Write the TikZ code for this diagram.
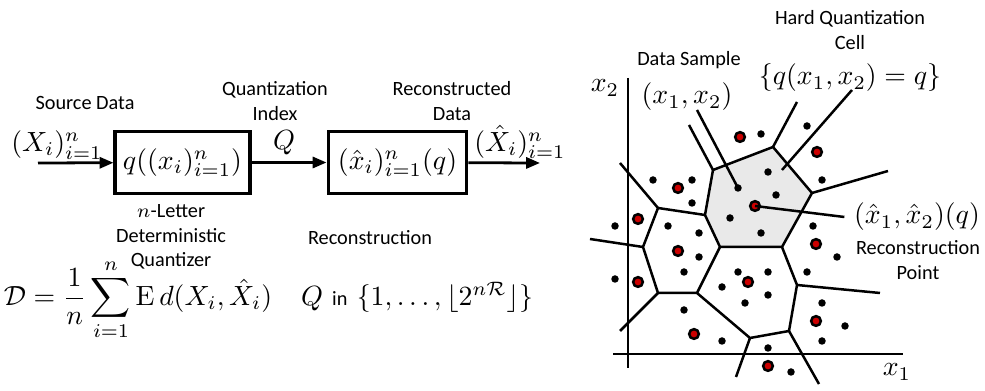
\documentclass[tikz,border=0pt]{standalone}
\usepackage{amsmath,amssymb}
\usepackage{fontspec}
\newfontfamily\calib{Carlito}
\usetikzlibrary{arrows.meta, positioning}

\begin{document}
\begin{tikzpicture}[
  x=0.36pt, y=-0.36pt,
  block/.style={
    rectangle, draw=black, line width=1.1pt, inner sep=0pt,
    minimum height=22pt
  },
  sig/.style={-{Triangle[length=5pt, width=4pt]}, line width=1pt},
  note/.style={font=\calib\fontsize{7.3}{8.8}\selectfont, align=center, inner sep=0pt},
  edge/.style={line width=0.9pt},
  axis/.style={line width=0.9pt},
  cellfill/.style={fill=gray!17},
  rdot/.style={fill=red!80!black, draw=black, line width=0.9pt},
  bdot/.style={fill=black},
]
  \useasboundingbox (0,0) rectangle (985,391);

  % Quantizer chain
  \node[block, minimum width=48.6pt] (quant) at (182.5,162.5) {$q((x_i)_{i=1}^n)$};
  \node[block, minimum width=50pt]   (recon) at (397.5,162.5) {$(\hat{x}_i)_{i=1}^n(q)$};
  \coordinate (src)  at (38,163);
  \coordinate (sink) at (540,163);

  \draw[sig] (src) -- (quant);
  \draw[sig] (quant) -- (recon);
  \draw[sig] (recon) -- (sink);

  % Signal labels
  \node (xin)  at (57,145)  {$(X_i)_{i=1}^n$};
  \node (qout) at (284,143) {$Q$};
  \node (xout) at (520,142) {$(\hat{X}_i)_{i=1}^n$};

  % Annotations
  \node[note] (srcdata) at (85,103)  {Source Data};
  \node[note] (qidx)    at (275,101) {Quantization\\Index};
  \node[note] (recdata) at (452,101) {Reconstructed\\Data};
  \node[note] (qname)   at (171,237) {$n$-Letter\\Deterministic\\Quantizer};
  \node[note] (rname)   at (370,238) {Reconstruction};

  % Distortion and index range
  \node (dist) at (138,300)
    {$\displaystyle \mathcal{D}=\frac{1}{n}\sum_{i=1}^{n}\mathrm{E}\,d(X_i,\hat{X}_i)$};
  \node (qrange) at (417,297)
    {$Q$ {\calib\fontsize{7.3}{8.8}\selectfont in} $\{1,\ldots,\lfloor 2^{n\mathcal{R}}\rfloor\}$};

  % Voronoi vertices
  \coordinate (A) at (713,170);
  \coordinate (B) at (773,147);
  \coordinate (C) at (812,193);
  \coordinate (D) at (782,247);
  \coordinate (E) at (720,247);
  \coordinate (F) at (705,215);
  \coordinate (G) at (658,208);
  \coordinate (H) at (643,247);
  \coordinate (I) at (658,293);
  \coordinate (J) at (697,293);
  \coordinate (K) at (750,338);
  \coordinate (L) at (789,331);
  \coordinate (M) at (797,285);

  % Hard quantization cell
  \fill[cellfill] (A) -- (B) -- (C) -- (D) -- (E) -- (F) -- cycle;

  % Axes
  \draw[axis] (628,78) -- (628,368);
  \draw[axis] (613,354) -- (903,354);
  \node (xtwo) at (605,88)  {$x_2$};
  \node (xone) at (897,372) {$x_1$};

  % Cell edges
  \draw[edge] (A) -- (B) -- (C) -- (D) -- (E) -- (F) -- cycle;
  \draw[edge] (F) -- (G) -- (H) -- (I) -- (J) -- (E);
  \draw[edge] (J) -- (K) -- (L) -- (M) -- (D);
  \draw[edge] (A) -- (689,125);
  \draw[edge] (B) -- (797,102);
  \draw[edge] (C) -- (888,171);
  \draw[edge] (G) -- (620,163);
  \draw[edge] (H) -- (590,239);
  \draw[edge] (I) -- (620,331);
  \draw[edge] (M) -- (880,293);
  \draw[edge] (K) -- (736,377);
  \draw[edge] (L) -- (819,384);

  % Data samples
  \foreach \p in {(761,134),(807,126),(653,180),(692,180),(768,172),(822,180),
                  (776,195),(692,203),(730,218),(761,233),(615,226),(668,226),
                  (699,233),(813,226),(837,257),(699,257),(684,272),(738,272),
                  (768,272),(807,272),(615,279),(722,287),(768,295),(745,303),
                  (822,303),(684,310),(845,326),(722,341),(822,341),(768,348),
                  (791,372)}
    \fill[bdot] \p circle (1.35pt);
  \fill[bdot] (738,188) circle (1.35pt) coordinate (sampt);

  % Reconstruction points
  \foreach \p in {(740,137),(817,152),(678,188),(638,219),(816,244),(678,251),
                  (638,282),(748,282),(816,321),(694,334),(768,366)}
    \draw[rdot] \p circle (1.75pt);
  \draw[rdot] (755,206) circle (1.75pt);
  \coordinate (recpt) at (755,206);

  % Labels on the right
  \node[note] (samplbl) at (689,60)  {Data Sample};
  \node       (sampxy)  at (687,97)  {$(x_1,x_2)$};
  \node[note] (celllbl) at (850,30)  {Hard Quantization\\Cell};
  \node       (cellset) at (850,78)  {$\{q(x_1,x_2)=q\}$};
  \node       (recxy)   at (917,217) {$(\hat{x}_1,\hat{x}_2)(q)$};
  \node[note] (reclbl)  at (918,260) {Reconstruction\\Point};

  % Pointers
  \coordinate (samptail) at (697,110);
  \coordinate (celltail) at (852,90);
  \coordinate (cellhead) at (782,170);
  \draw[edge] (samptail) -- (sampt);
  \draw[edge] (celltail) -- (cellhead);
  \draw[edge] (recpt) -- (recxy.west);
\end{tikzpicture}
\end{document}
